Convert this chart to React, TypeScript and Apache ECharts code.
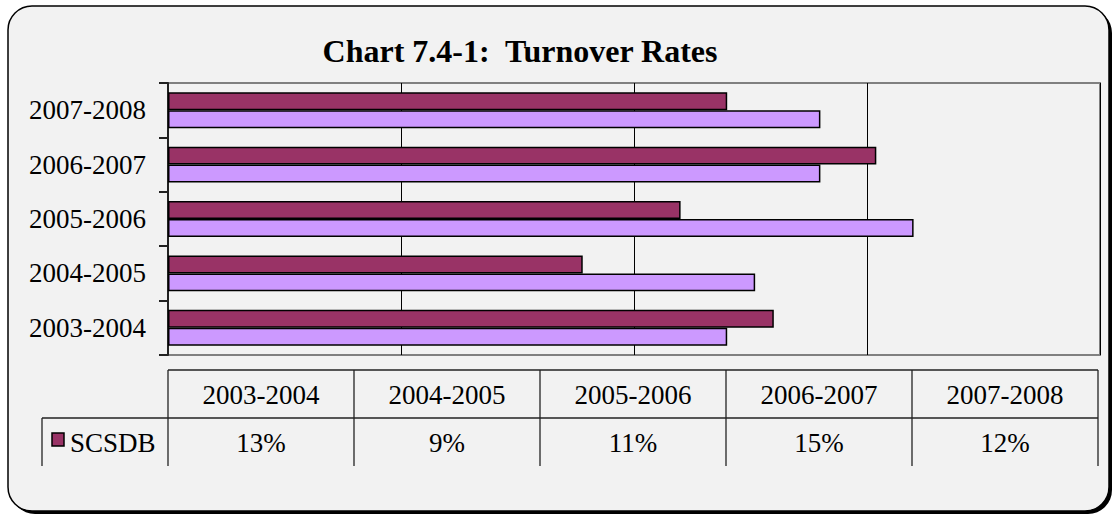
import React, { useEffect, useRef } from "react";
import * as echarts from "echarts";

const categories = ["2003-2004", "2004-2005", "2005-2006", "2006-2007", "2007-2008"];
const scsdbValues = [13, 8.9, 11, 15.2, 12];
const scsdbLabels = ["13%", "9%", "11%", "15%", "12%"];
const otherValues = [12, 12.6, 16, 14, 14];
const seriesName = "SCSDB";
const titleText = "Chart 7.4-1:  Turnover Rates";

const FONT = '"Liberation Serif", "Times New Roman", serif';

export default function App() {
  const ref = useRef<HTMLDivElement>(null);
  useEffect(() => {
    if (!ref.current) return;
    const chart = echarts.init(ref.current, null, { renderer: "svg" });

    const tableLeft = 168;
    const tableRight = 1098;
    const colW = (tableRight - tableLeft) / categories.length;
    const rowTop = 370;
    const rowMid = 418;
    const rowBot = 466;

    const graphics: any[] = [];
    graphics.push({
      type: "rect",
      z: -10,
      silent: true,
      shape: { x: 11, y: 9, width: 1101, height: 505, r: 24 },
      style: { fill: "#000" },
    });
    graphics.push({
      type: "rect",
      z: -9,
      silent: true,
      shape: { x: 8, y: 6, width: 1101, height: 505, r: 24 },
      style: { fill: "#f2f2f2", stroke: "#000", lineWidth: 1.5 },
    });
    const lineStyle = { stroke: "#222", lineWidth: 1.3 };
    graphics.push({ type: "line", shape: { x1: tableLeft, y1: rowTop, x2: tableRight, y2: rowTop }, style: lineStyle });
    graphics.push({ type: "line", shape: { x1: 42, y1: rowMid, x2: tableRight, y2: rowMid }, style: lineStyle });
    graphics.push({ type: "line", shape: { x1: 42, y1: rowMid, x2: 42, y2: rowBot }, style: lineStyle });
    for (let i = 0; i <= categories.length; i++) {
      const x = tableLeft + colW * i;
      graphics.push({ type: "line", shape: { x1: x, y1: rowTop, x2: x, y2: rowBot }, style: lineStyle });
    }
    categories.forEach((c, i) => {
      const cx = tableLeft + colW * (i + 0.5);
      graphics.push({
        type: "text",
        x: cx,
        y: (rowTop + rowMid) / 2 + 1,
        style: { text: c, fill: "#000", fontSize: 27, fontFamily: FONT, align: "center", verticalAlign: "middle" },
      });
      graphics.push({
        type: "text",
        x: cx,
        y: (rowMid + rowBot) / 2 + 1,
        style: { text: scsdbLabels[i], fill: "#000", fontSize: 27, fontFamily: FONT, align: "center", verticalAlign: "middle" },
      });
    });
    graphics.push({
      type: "rect",
      shape: { x: 52, y: 433, width: 12, height: 13 },
      style: { fill: "#993366", stroke: "#000", lineWidth: 1.5 },
    });
    graphics.push({
      type: "text",
      x: 70,
      y: (rowMid + rowBot) / 2 + 1,
      style: { text: seriesName, fill: "#000", fontSize: 27, fontFamily: FONT, align: "left", verticalAlign: "middle" },
    });

    chart.setOption({
      animation: false,
      backgroundColor: "#ffffff",
      title: {
        text: titleText,
        left: 515,
        top: 30,
        textAlign: "center",
        textStyle: { fontFamily: FONT, fontSize: 32, fontWeight: "bold", color: "#000" },
      },
      grid: {
        left: 168,
        right: 19,
        top: 83,
        height: 272,
        show: true,
        borderColor: "#808080",
        borderWidth: 2,
        backgroundColor: "transparent",
        containLabel: false,
      },
      xAxis: {
        type: "value",
        min: 0,
        max: 20,
        interval: 5,
        axisLabel: { show: false },
        axisTick: { show: false },
        axisLine: { show: false },
        splitLine: { show: true, lineStyle: { color: "#000", width: 1 } },
      },
      yAxis: {
        type: "category",
        data: categories,
        axisLine: { show: true, lineStyle: { color: "#222", width: 2 } },
        axisTick: { show: true, inside: false, length: 9, lineStyle: { color: "#222", width: 2 } },
        axisLabel: { color: "#000", fontFamily: FONT, fontSize: 27, margin: 22 },
        splitLine: { show: false },
      },
      series: [
        {
          name: seriesName,
          type: "bar",
          data: scsdbValues,
          barGap: "0%",
          barCategoryGap: "34%",
          itemStyle: { color: "#993366", borderColor: "#000", borderWidth: 1.5 },
        },
        {
          name: "",
          type: "bar",
          data: otherValues,
          barGap: "0%",
          barCategoryGap: "34%",
          itemStyle: { color: "#CC99FF", borderColor: "#000", borderWidth: 1.5 },
        },
      ],
      graphic: graphics,
    });
    return () => chart.dispose();
  }, []);
  return (
    <div
      ref={ref}
      style={{ position: "fixed", left: 0, top: 0, width: 1119, height: 516 }}
    />
  );
}
